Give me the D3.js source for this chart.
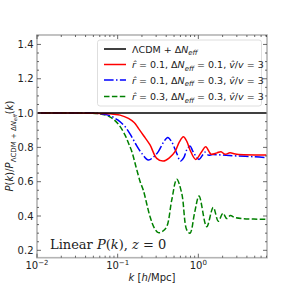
<!DOCTYPE html>
<html>
<head>
<meta charset="utf-8">
<script src="https://cdn.jsdelivr.net/npm/d3@7"></script>
<style>
  body { margin: 0; background: #fff; }
  svg { display: block; }
  text { font-family: "DejaVu Sans", sans-serif; fill: #222; }
  .serif { font-family: "DejaVu Serif", "Liberation Serif", serif; }
</style>
</head>
<body>
<svg id="chart" width="296" height="296"></svg>
<script>
// data: k [h/Mpc] and P(k) ratio
var kRed   = [0.01, 0.03, 0.05, 0.07, 0.09, 0.107, 0.136, 0.16, 0.181, 0.21, 0.252, 0.305, 0.368, 0.44, 0.514, 0.58, 0.652, 0.72, 0.789, 0.929, 1.10, 1.235, 1.44, 1.7, 1.91, 2.14, 2.47, 3.0, 7.1];
var pRed   = [1.0, 1.0, 0.999, 0.997, 0.993, 0.988, 0.969, 0.945, 0.911, 0.868, 0.814, 0.736, 0.72, 0.74, 0.775, 0.83, 0.862, 0.835, 0.785, 0.73, 0.775, 0.804, 0.76, 0.768, 0.775, 0.76, 0.768, 0.76, 0.756];

var kBlue  = [0.01, 0.04, 0.06, 0.08, 0.10, 0.124, 0.15, 0.172, 0.199, 0.24, 0.28, 0.319, 0.37, 0.418, 0.47, 0.54, 0.60, 0.66, 0.718, 0.789, 0.85, 0.91, 1.02, 1.13, 1.21, 1.33, 1.5, 2.0, 3.0, 5.0, 7.1];
var pBlue  = [1.0, 1.0, 0.997, 0.985, 0.96, 0.92, 0.86, 0.81, 0.765, 0.726, 0.745, 0.775, 0.83, 0.858, 0.83, 0.765, 0.72, 0.74, 0.785, 0.808, 0.78, 0.756, 0.73, 0.755, 0.772, 0.755, 0.758, 0.755, 0.75, 0.745, 0.74];

var kGreen = [0.01, 0.04, 0.057, 0.08, 0.102, 0.124, 0.136, 0.15, 0.168, 0.19, 0.208, 0.252, 0.285, 0.319, 0.36, 0.406, 0.468, 0.54, 0.623, 0.718, 0.789, 0.9, 1.02, 1.27, 1.53, 1.77, 2.02, 2.25, 2.5, 2.8, 3.5, 7.1];
var pGreen = [1.0, 1.0, 0.997, 0.978, 0.935, 0.87, 0.825, 0.775, 0.69, 0.6, 0.55, 0.396, 0.33, 0.303, 0.31, 0.338, 0.493, 0.614, 0.532, 0.319, 0.30, 0.42, 0.516, 0.338, 0.45, 0.37, 0.416, 0.385, 0.403, 0.392, 0.385, 0.381];

var kBlack = [0.01, 7.1];
var pBlack = [1.0, 1.0];

var yTicks = [0.2, 0.4, 0.6, 0.8, 1.0, 1.2, 1.4];
var xTicks = [0.01, 0.1, 1];
var xTickExp = ["\u22122", "\u22121", "0"];

var svg = d3.select("#chart"),
    pLeft = 37, pRight = 267, pTop = 35, pBottom = 257.7;

var x = d3.scaleLog().domain([0.01, 7.1]).range([pLeft, pRight]);
var y = d3.scaleLinear().domain([0.157, 1.455]).range([pBottom, pTop]);

function zip(ks, ps) { return ks.map(function(k, i){ return {k: k, p: ps[i]}; }); }

var line = d3.line()
    .x(function(d){ return x(d.k); })
    .y(function(d){ return y(d.p); })
    .curve(d3.curveCatmullRom.alpha(0.5));

svg.append("defs").append("clipPath").attr("id", "clip")
  .append("rect").attr("x", pLeft).attr("y", pTop)
  .attr("width", pRight - pLeft).attr("height", pBottom - pTop);

var series = [
  {data: zip(kBlack, pBlack), color: "#000", dash: null},
  {data: zip(kRed, pRed), color: "red", dash: null},
  {data: zip(kBlue, pBlue), color: "blue", dash: "9.6,2.4,1.5,2.4"},
  {data: zip(kGreen, pGreen), color: "green", dash: "5.5,2.4"}
];

var plot = svg.append("g").attr("clip-path", "url(#clip)");
// draw last series first so red/black sit on top like the original
[3, 2, 1, 0].forEach(function(i){
  var s = series[i];
  plot.append("path")
    .datum(s.data)
    .attr("d", line)
    .attr("fill", "none")
    .attr("stroke", s.color)
    .attr("stroke-width", 1.5)
    .attr("stroke-dasharray", s.dash);
});

// frame
svg.append("rect")
  .attr("x", pLeft).attr("y", pTop)
  .attr("width", pRight - pLeft).attr("height", pBottom - pTop)
  .attr("fill", "none").attr("stroke", "#b4b4b4").attr("stroke-width", 1.6);

var ticks = svg.append("g").attr("stroke", "#444").attr("stroke-width", 0.8);

// y ticks, major and minor, on both sides
d3.range(0.2, 1.451, 0.05).forEach(function(v){
  var major = Math.abs(v * 5 - Math.round(v * 5)) < 1e-6;
  var len = major ? 4 : 2;
  var py = y(v);
  ticks.append("line").attr("x1", pLeft).attr("x2", pLeft + len).attr("y1", py).attr("y2", py);
  ticks.append("line").attr("x1", pRight).attr("x2", pRight - len).attr("y1", py).attr("y2", py);
});

// x ticks, log minor
[0.01, 0.1, 1].forEach(function(dec){
  for (var m = 1; m <= 9; m++) {
    var k = dec * m;
    if (k > 7.1) break;
    var len = m === 1 ? 4 : 2;
    var px = x(k);
    ticks.append("line").attr("x1", px).attr("x2", px).attr("y1", pBottom).attr("y2", pBottom - len);
    ticks.append("line").attr("x1", px).attr("x2", px).attr("y1", pTop).attr("y2", pTop + len);
  }
});

// y tick labels
yTicks.forEach(function(v){
  svg.append("text")
    .attr("x", pLeft - 3.5).attr("y", y(v) + 3.6)
    .attr("text-anchor", "end")
    .attr("font-size", 10)
    .text(v.toFixed(1));
});

// x tick labels, 10^n
xTicks.forEach(function(k, i){
  var t = svg.append("text")
    .attr("x", x(k)).attr("y", 269)
    .attr("text-anchor", "middle")
    .attr("font-size", 10);
  t.append("tspan").text("10");
  t.append("tspan").attr("dy", -4.5).attr("font-size", 7).text(xTickExp[i]);
});

// axis labels
var xl = svg.append("text").attr("x", 152).attr("y", 281).attr("text-anchor", "middle").attr("font-size", 10);
xl.append("tspan").attr("font-style", "italic").text("k");
xl.append("tspan").text(" [");
xl.append("tspan").attr("font-style", "italic").text("h");
xl.append("tspan").text("/Mpc]");

var yl = svg.append("text")
  .attr("transform", "translate(13,146) rotate(-90)")
  .attr("text-anchor", "middle").attr("font-size", 10);
yl.append("tspan").attr("font-style", "italic").text("P");
yl.append("tspan").text("(");
yl.append("tspan").attr("font-style", "italic").text("k");
yl.append("tspan").text(")/");
yl.append("tspan").attr("font-style", "italic").text("P");
yl.append("tspan").attr("dy", 2.5).attr("font-size", 7).text("\u039BCDM + \u0394");
yl.append("tspan").attr("font-size", 7).attr("font-style", "italic").text("N");
yl.append("tspan").attr("dy", 1.5).attr("font-size", 5).attr("font-style", "italic").text("eff");
yl.append("tspan").attr("dy", -4).text("(");
yl.append("tspan").attr("font-style", "italic").text("k");
yl.append("tspan").text(")");

// annotation
var ann = svg.append("text").attr("class", "serif").attr("x", 50).attr("y", 249).attr("font-size", 13);
ann.append("tspan").text("Linear ");
ann.append("tspan").attr("font-style", "italic").text("P");
ann.append("tspan").text("(");
ann.append("tspan").attr("font-style", "italic").text("k");
ann.append("tspan").text("), ");
ann.append("tspan").attr("font-style", "italic").text("z");
ann.append("tspan").text(" = 0");

// legend
var legend = svg.append("g");
legend.append("rect")
  .attr("x", 97.5).attr("y", 40).attr("width", 164).attr("height", 66)
  .attr("rx", 2.5).attr("fill", "#fff").attr("fill-opacity", 0.85)
  .attr("stroke", "#d6d6d6").attr("stroke-width", 0.8);

var legRows = [49, 64.5, 80, 96.5];
var legR = ["0.1", "0.1", "0.3"];
var legN = ["0.1", "0.3", "0.3"];

series.forEach(function(s, i){
  var ly = legRows[i];
  legend.append("line")
    .attr("x1", 104).attr("x2", 126).attr("y1", ly).attr("y2", ly)
    .attr("stroke", s.color).attr("stroke-width", 1.5)
    .attr("stroke-dasharray", s.dash);
  var t = legend.append("text").attr("x", 132).attr("y", ly + 3.5).attr("font-size", 9.5);
  if (i === 0) {
    t.append("tspan").text("\u039BCDM + \u0394");
    t.append("tspan").attr("font-style", "italic").text("N");
    t.append("tspan").attr("dy", 2.5).attr("font-size", 7).attr("font-style", "italic").text("eff");
  } else {
    t.append("tspan").attr("font-style", "italic").text("r\u0302");
    t.append("tspan").text(" = " + legR[i - 1] + ", \u0394");
    t.append("tspan").attr("font-style", "italic").text("N");
    t.append("tspan").attr("dy", 2.5).attr("font-size", 7).attr("font-style", "italic").text("eff");
    t.append("tspan").attr("dy", -2.5).text(" = " + legN[i - 1] + ", ");
    t.append("tspan").attr("font-style", "italic").text("v\u0302");
    t.append("tspan").text("/");
    t.append("tspan").attr("font-style", "italic").text("v");
    t.append("tspan").text(" = 3");
  }
});
</script>
</body>
</html>
